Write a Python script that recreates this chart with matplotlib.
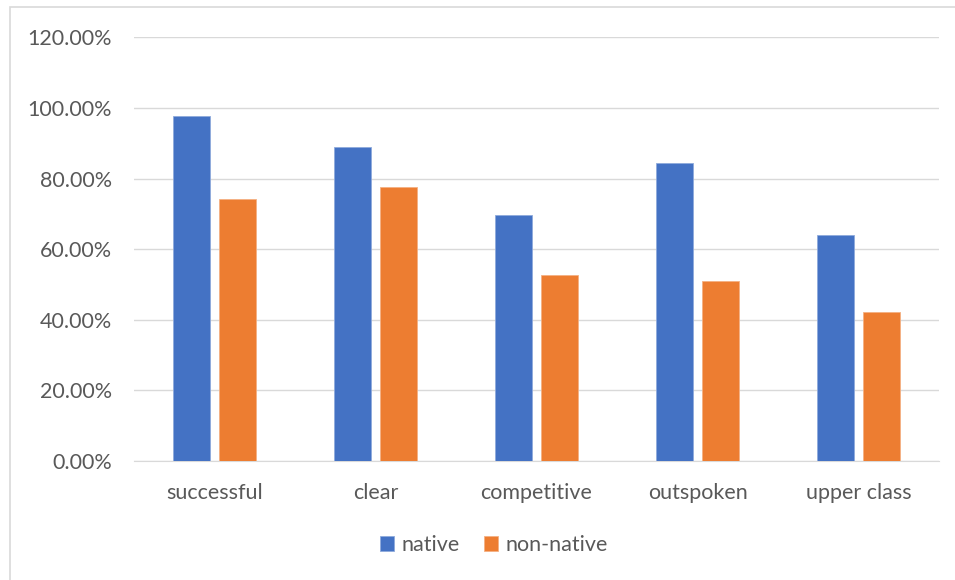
import matplotlib.pyplot as plt
from matplotlib.patches import Rectangle
from matplotlib.ticker import PercentFormatter
import numpy as np

categories = ['successful', 'clear', 'competitive', 'outspoken', 'upper class']
native = [97.7, 88.8, 69.7, 84.3, 64.1]
non_native = [74.1, 77.7, 52.7, 50.9, 42.1]

blue = '#4472C4'
orange = '#ED7D31'
txt = '#595959'

plt.rcParams['font.family'] = ['Lato', 'DejaVu Sans']

fig = plt.figure(figsize=(9.55, 5.8), dpi=100)
ax = fig.add_axes([134/955, 1-461/580, 805/955, (461-37.3)/580])

# chart border like the excel frame
fig.patches.append(Rectangle((10/955, -0.01), 1.0, 1-7/580+0.01, transform=fig.transFigure,
                             fill=False, edgecolor='#D9D9D9', linewidth=1.2))

x = np.arange(len(categories))
w = 0.228
ax.bar(x - 0.142, native, w, color=blue, edgecolor='#8FAADC', linewidth=0.6, label='native', zorder=3)
ax.bar(x + 0.142, non_native, w, color=orange, edgecolor='#F4B183', linewidth=0.6, label='non-native', zorder=3)

ax.set_xlim(-0.5, len(categories) - 0.5)
ax.set_ylim(0, 120)
ax.set_yticks(np.arange(0, 121, 20))
ax.yaxis.set_major_formatter(PercentFormatter(decimals=2))
ax.set_xticks(x)
ax.set_xticklabels(categories)
ax.grid(axis='y', color='#D9D9D9', linewidth=1.0, zorder=0)
for s in ['top', 'right', 'left']:
    ax.spines[s].set_visible(False)
ax.spines['bottom'].set_color('#D9D9D9')
ax.tick_params(axis='both', length=0, labelsize=15.5, colors=txt)
ax.tick_params(axis='y', pad=16)
ax.tick_params(axis='x', pad=16)

leg = fig.legend(loc='center', bbox_to_anchor=(0.517, 1-545/580), ncol=2, frameon=False,
                 fontsize=15.5, handlelength=0.65, handleheight=0.65, handletextpad=0.35,
                 columnspacing=1.1)
for t in leg.get_texts():
    t.set_color(txt)

fig.savefig('out.png', dpi=100)
